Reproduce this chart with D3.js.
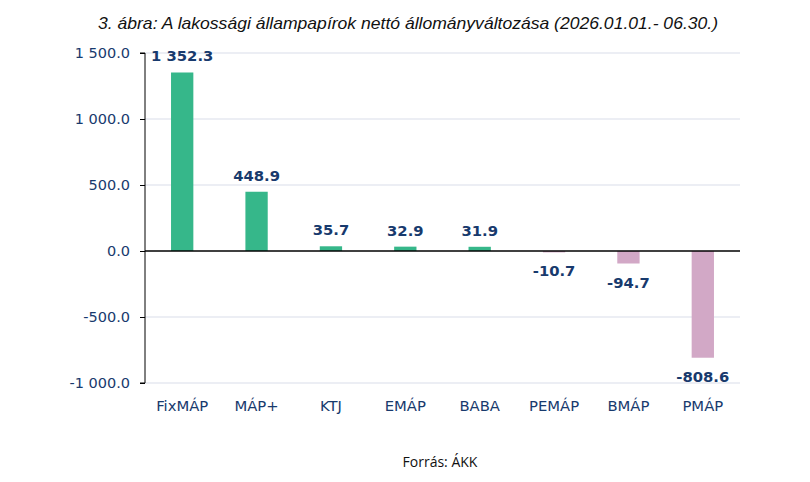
<!DOCTYPE html>
<html><head><meta charset="utf-8">
<script src="https://cdn.jsdelivr.net/npm/d3@7"></script>
<style>body{margin:0;background:#fff}</style>
</head><body>
<svg id="c" width="810" height="482"></svg>
<script>
const categories = ["FixMÁP","MÁP+","KTJ","EMÁP","BABA","PEMÁP","BMÁP","PMÁP"];
const values = [1352.3, 448.9, 35.7, 32.9, 31.9, -10.7, -94.7, -808.6];
const tickValues = [-1000, -500, 0, 500, 1000, 1500];
const title = "3. ábra: A lakossági állampapírok nettó állományváltozása (2026.01.01.- 06.30.)";
const source = "Forrás: ÁKK";

(function () {
const svg = d3.select("#c");
const pLeft = 145, pRight = 740, pTop = 53, pBottom = 383;
const x = d3.scaleBand().domain(categories).range([pLeft, pRight]).paddingInner(0.7).paddingOuter(0.35);
const y = d3.scaleLinear().domain([-1000, 1500]).range([pBottom, pTop]);
const fmt = v => d3.format(",.1f")(v).replace(/,/g, " ").replace("−", "-");
const navy = "#183a6d";

svg.append("text").attr("x", 408).attr("y", 29).attr("text-anchor", "middle")
  .attr("font-family", "Liberation Sans, Arial").attr("font-style", "italic")
  .attr("font-size", 17).attr("fill", "#111")
  .attr("textLength", 620).attr("lengthAdjust", "spacingAndGlyphs").text(title);

svg.append("g").selectAll("line").data(tickValues.filter(d => d !== 0)).join("line")
  .attr("x1", pLeft).attr("x2", pRight).attr("y1", d => y(d)).attr("y2", d => y(d))
  .attr("stroke", "#d9dee9").attr("stroke-width", 1.2);

svg.append("g").selectAll("rect").data(values).join("rect")
  .attr("x", (d, i) => x(categories[i]))
  .attr("width", x.bandwidth())
  .attr("y", d => y(Math.max(0, d)))
  .attr("height", d => Math.abs(y(d) - y(0)))
  .attr("fill", d => d >= 0 ? "#36b78a" : "#d2a8c6");

const yAxis = d3.axisLeft(y).tickValues(tickValues).tickSize(5).tickFormat(fmt);
const ga = svg.append("g").attr("transform", `translate(${pLeft},0)`).call(yAxis);
ga.select(".domain").attr("stroke", "#000").attr("d", `M-5,${pTop}H0V${pBottom}H-5`);
ga.selectAll(".tick line").attr("stroke", "#000");
ga.selectAll(".tick text").attr("x", -15).attr("font-family", "DejaVu Sans, Verdana").attr("font-size", 14.5).attr("fill", navy);

svg.append("line").attr("x1", pLeft).attr("x2", pRight).attr("y1", y(0)).attr("y2", y(0)).attr("stroke", "#000").attr("stroke-width", 1.3);

const xAxis = d3.axisBottom(x).tickSize(0);
const gx = svg.append("g").attr("transform", `translate(0,${pBottom})`).call(xAxis);
gx.select(".domain").remove();
gx.selectAll(".tick text").attr("dy", 0).attr("y", 28).attr("font-family", "DejaVu Sans, Verdana").attr("font-size", 14.8).attr("fill", navy);

svg.append("g").selectAll("text").data(values).join("text")
  .attr("x", (d, i) => x(categories[i]) + x.bandwidth() / 2)
  .attr("y", d => d >= 0 ? y(d) - 11 : y(d) + 24)
  .attr("text-anchor", "middle")
  .attr("font-family", "DejaVu Sans, Verdana").attr("font-weight", "bold").attr("font-size", 14.8)
  .attr("fill", navy).text(fmt);

svg.append("text").attr("x", 440).attr("y", 467).attr("text-anchor", "middle")
  .attr("font-family", "Open Sans, Noto Sans").attr("font-size", 14).attr("fill", "#111").text(source);
})();
</script>
</body></html>
